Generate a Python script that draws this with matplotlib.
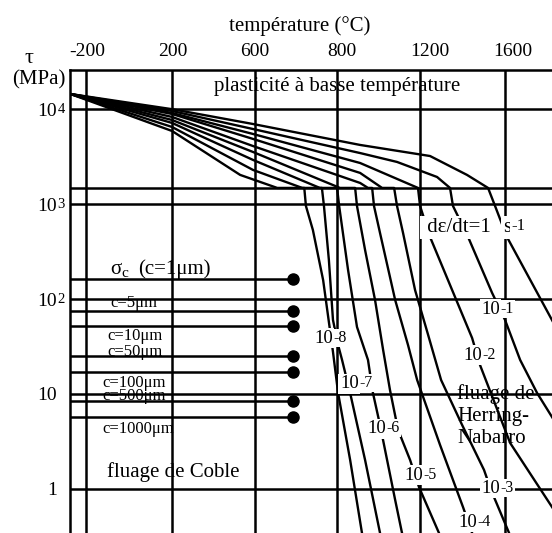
import numpy as np
import matplotlib
matplotlib.use("Agg")
import matplotlib.pyplot as plt

plt.rcParams['font.family'] = ['Liberation Serif', 'DejaVu Serif']

# ---------------- data ----------------
T_ticks = [-200, 200, 600, 800, 1200, 1600]
T_tick_labels = ['-200', '200', '600', '800', '1200', '1600']
tau_ticks = [1e4, 1e3, 1e2, 10, 1]
tau_tick_base = ['10', '10', '10', '10', '1']
tau_tick_exp = ['4', '3', '2', '', '']
boundary_tau = 1480          # limit low-temperature plasticity / creep

# iso strain-rate curves (T in degC, tau in MPa)
rate_1e0_T = [-273, 200, 590, 911, 1247, 1421, 1520, 1553, 1609, 1859]
rate_1e0_tau = [14450, 10000, 6980, 4200, 3210, 2030, 1480, 955, 450, 41.8]
rate_1e1_T = [-273, 200, 590, 911, 1089, 1280, 1341, 1355, 1426, 1539, 1600, 1671, 1751, 1821, 1859]
rate_1e1_tau = [14450, 9570, 6180, 3450, 2780, 1930, 1480, 955, 450, 116, 60.1, 22.8, 10.2, 5.71, 4.17]
rate_1e2_T = [-273, 200, 590, 911, 1190, 1200, 1247, 1445, 1482, 1624, 1821, 1859]
rate_1e2_tau = [14450, 9120, 5480, 2710, 1480, 955, 450, 38.8, 20.2, 3.04, 0.643, 0.481]
rate_1e3_T = [-273, 200, 590, 911, 1017, 1075, 1089, 1118, 1176, 1238, 1299, 1398, 1501, 1534, 1619, 1633]
rate_1e3_tau = [14450, 8900, 4860, 2130, 1480, 1480, 955, 496, 124, 41.8, 14.0, 4.70, 1.58, 0.970, 0.342, 0.288]
rate_1e4_T = [-273, 200, 590, 911, 949, 969, 978, 1007, 1080, 1142, 1186, 1294, 1402, 1445, 1454]
rate_1e4_tau = [14450, 8280, 4090, 1670, 1480, 1480, 955, 496, 97.6, 32.7, 14.0, 2.90, 0.643, 0.342, 0.288]
rate_1e5_T = [-273, 200, 590, 814, 887, 896, 935, 983, 1022, 1055, 1094, 1152, 1195, 1289, 1304]
rate_1e5_tau = [14450, 7690, 3540, 1480, 1480, 955, 328, 97.6, 29.0, 11.0, 4.17, 2.01, 1.04, 0.342, 0.288]
rate_1e6_T = [-273, 200, 590, 758, 800, 810, 853, 896, 949, 973, 1007, 1080, 1113, 1123]
rate_1e6_tau = [14450, 7160, 2920, 1480, 1480, 955, 202, 50.7, 22.8, 10.2, 4.70, 0.762, 0.342, 0.288]
rate_1e7_T = [-273, 200, 590, 715, 763, 768, 780, 790, 805, 824, 863, 935, 1007, 1017]
rate_1e7_tau = [14450, 6490, 2290, 1480, 1480, 955, 258, 60.1, 32.7, 22.8, 10.2, 2.01, 0.342, 0.288]
rate_1e8_T = [-273, 200, 528, 654, 720, 724, 741, 766, 780, 790, 805, 863, 920, 930]
rate_1e8_tau = [14450, 5890, 2030, 1480, 1480, 955, 533, 158, 57.3, 27.7, 10.2, 2.01, 0.342, 0.288]

# Coble creep thresholds for grain sizes c
grain_sizes = ['1', '5', '10', '50', '100', '500', '1000']
coble_tau = [162, 74.8, 51.9, 25.1, 17.0, 8.41, 5.71]
coble_T_end = 693

rate_exps = ['-8', '-7', '-6', '-5', '-4', '-3', '-2', '-1']

# ---------------- layout ----------------
T_scale_pos = [86, 172, 255, 337, 420, 505]   # pixel positions of the temperature ticks
T_min, T_max = -275, 1821
tau_min, tau_max = 0.342, 25880
tick_label_dx = [0.7, 0.7, 0.0, 3.6, 7.2, 5.8]

rate_label_T = [744, 814, 945, 1123, 1379, 1487, 1402, 1487]
rate_label_tau = [34.4, 11.5, 3.87, 1.24, 0.396, 0.904, 22.8, 69.5]

small_label_T = [-88, -102, -102, -126, -126, -126]
small_label_tau = [82.4, 37.0, 25.1, 11.8, 8.63, 3.87]

LW = 1.8


def fwd(t):
    t = np.asarray(t, float)
    sl = (T_scale_pos[1] - T_scale_pos[0]) / (T_ticks[1] - T_ticks[0])
    sr = (T_scale_pos[-1] - T_scale_pos[-2]) / (T_ticks[-1] - T_ticks[-2])
    return np.where(t < T_ticks[0], T_scale_pos[0] + (t - T_ticks[0]) * sl,
                    np.where(t > T_ticks[-1], T_scale_pos[-1] + (t - T_ticks[-1]) * sr,
                             np.interp(t, T_ticks, T_scale_pos)))


def inv(p):
    p = np.asarray(p, float)
    sl = (T_ticks[1] - T_ticks[0]) / (T_scale_pos[1] - T_scale_pos[0])
    sr = (T_ticks[-1] - T_ticks[-2]) / (T_scale_pos[-1] - T_scale_pos[-2])
    return np.where(p < T_scale_pos[0], T_ticks[0] + (p - T_scale_pos[0]) * sl,
                    np.where(p > T_scale_pos[-1], T_ticks[-1] + (p - T_scale_pos[-1]) * sr,
                             np.interp(p, T_scale_pos, T_ticks)))


fig = plt.figure(figsize=(5.52, 5.33), dpi=100)
ax = fig.add_axes([70 / 552, 0, 482 / 552, 463 / 533])
ax.set_xscale('function', functions=(fwd, inv))
ax.set_yscale('log')
ax.set_xlim(T_min, T_max)
ax.set_ylim(tau_min, tau_max)
ax.set_xticks([])
ax.set_yticks([])
ax.yaxis.set_minor_locator(matplotlib.ticker.NullLocator())
ax.xaxis.set_minor_locator(matplotlib.ticker.NullLocator())
for s in ['right', 'bottom']:
    ax.spines[s].set_visible(False)
for s in ['left', 'top']:
    ax.spines[s].set_linewidth(LW)

# grid
for t in T_ticks:
    ax.axvline(t, color='k', lw=LW)
for v in tau_ticks + [boundary_tau]:
    ax.axhline(v, color='k', lw=LW)

# curves
curves = [(rate_1e0_T, rate_1e0_tau), (rate_1e1_T, rate_1e1_tau), (rate_1e2_T, rate_1e2_tau),
          (rate_1e3_T, rate_1e3_tau), (rate_1e4_T, rate_1e4_tau), (rate_1e5_T, rate_1e5_tau),
          (rate_1e6_T, rate_1e6_tau), (rate_1e7_T, rate_1e7_tau), (rate_1e8_T, rate_1e8_tau)]
for T, tau in curves:
    ax.plot(T, tau, color='k', lw=1.7, solid_joinstyle='round')

# Coble lines
ax.hlines(coble_tau, T_min, coble_T_end, color='k', lw=LW)
ax.plot([coble_T_end] * len(coble_tau), coble_tau, 'o', color='k', ms=8, clip_on=False)

box = dict(boxstyle='square,pad=0.08', fc='white', ec='none')


def pow_text(x, y, base, exp, size, xycoords='data', offset=(0, 0), ha='left', bbox=None, ratio=0.8):
    t = ax.annotate(base, xy=(x, y), xycoords=xycoords, xytext=offset, textcoords='offset points',
                    ha=ha, va='baseline', fontsize=size, bbox=bbox, annotation_clip=False, zorder=5)
    if exp:
        ax.annotate(exp, xy=(1, 1), xycoords=t, xytext=(0.4, 0), textcoords='offset points',
                    ha='left', va='top', fontsize=size * ratio, bbox=bbox, annotation_clip=False, zorder=6)
    return t


# axis labels
for t, lbl, dx in zip(T_ticks, T_tick_labels, tick_label_dx):
    ax.annotate(lbl, xy=(t, 1), xycoords=('data', 'axes fraction'), xytext=(dx, 10),
                textcoords='offset points', ha='center', va='baseline', fontsize=14, annotation_clip=False)
for v, b, e in zip(tau_ticks, tau_tick_base, tau_tick_exp):
    pow_text(0, v, b, e, 14, xycoords=('axes fraction', 'data'), offset=(-9.4, -4.7), ha='right', ratio=0.75)

fig.text(300 / 552, 1 - 31 / 533, 'température (°C)', ha='center', va='baseline', fontsize=15)
fig.text(29 / 552, 1 - 63 / 533, 'τ', ha='center', va='baseline', fontsize=16)
fig.text(38.5 / 552, 1 - 84 / 533, '(MPa)', ha='center', va='baseline', fontsize=15)

# region labels
ax.text(402, 15560, 'plasticité à basse température', ha='left', va='baseline', fontsize=15)
sig = ax.text(-88, 183, 'σ', ha='left', va='baseline', fontsize=15)
ax.annotate('c', xy=(1, 0), xycoords=sig, xytext=(0.3, -0.5), textcoords='offset points',
            ha='left', va='bottom', fontsize=11)
ax.text(42, 183, '(c=' + grain_sizes[0] + 'μm)', ha='left', va='baseline', fontsize=15)
for g, x, y in zip(grain_sizes[1:], small_label_T, small_label_tau):
    ax.text(x, y, 'c=' + g + 'μm', ha='left', va='baseline', fontsize=12)
ax.text(-102, 1.33, 'fluage de Coble', ha='left', va='baseline', fontsize=15)
for line, y in zip(['fluage de', 'Herring-', 'Nabarro'], [8.83, 5.18, 3.04]):
    ax.text(1374, y, line, ha='left', va='baseline', fontsize=15)

# strain-rate labels
for e, x, y in zip(rate_exps, rate_label_T, rate_label_tau):
    pow_text(x, y, '10', e, 13.5, bbox=box, ratio=0.85)
ax.text(1209, 508, ' dε/dt=1', ha='left', va='baseline', fontsize=15, bbox=box, zorder=5)
pow_text(1591, 508, 's', '-1', 15, bbox=box, ratio=0.8)

fig.savefig('out.png', dpi=100)
